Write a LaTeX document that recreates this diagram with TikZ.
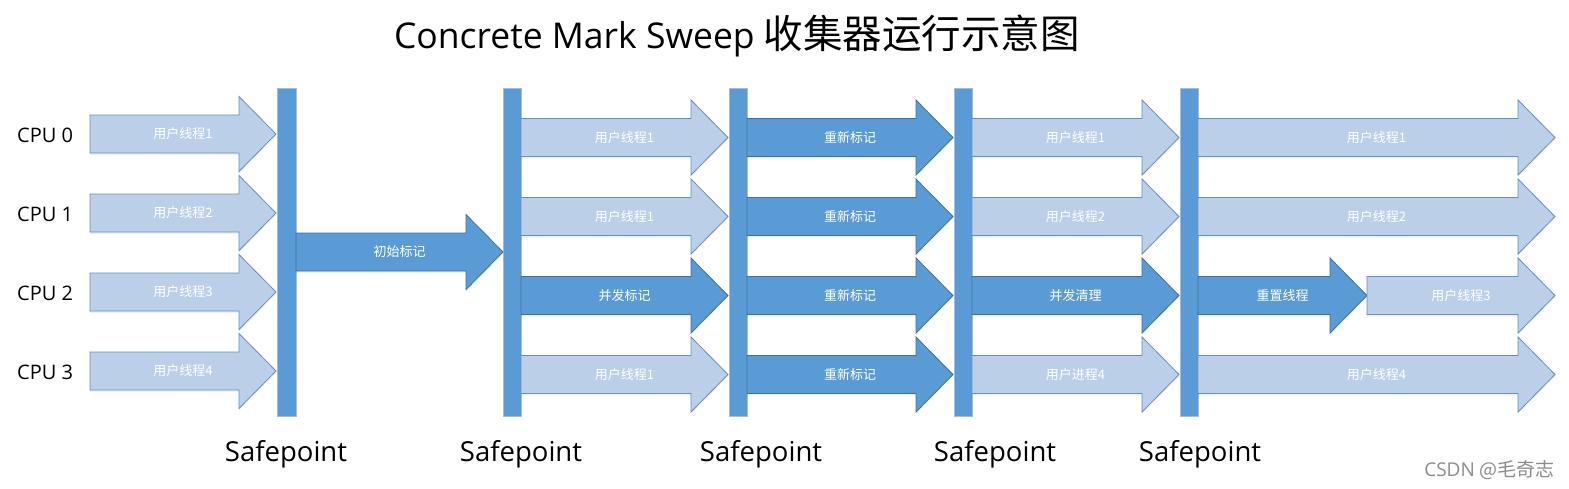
\documentclass[tikz,border=0pt]{standalone}
\usepackage{fontspec}
\setmainfont{Open Sans}
\newfontfamily\cjk{Noto Sans CJK SC}
\usetikzlibrary{shadows}
\definecolor{lightfill}{HTML}{BBCFE8}
\definecolor{lightedge}{HTML}{6A8EBF}
\definecolor{darkfill}{HTML}{5B9BD5}
\definecolor{darkedge}{HTML}{41719C}
\definecolor{baredge}{HTML}{A7BCD4}
\definecolor{wmgrey}{HTML}{8C8C8C}
\tikzset{
  userarrow/.style={fill=lightfill, draw=lightedge, line width=0.8pt, line join=miter,
    drop shadow={shadow xshift=0pt, shadow yshift=-2pt, opacity=0.12, fill=darkfill}},
  gcarrow/.style={fill=darkfill, draw=darkedge, line width=0.8pt, line join=miter,
    drop shadow={shadow xshift=0pt, shadow yshift=-2pt, opacity=0.12, fill=darkfill}},
  safebar/.style={fill=darkfill, draw=baredge, line width=0.6pt},
  lbl/.style={text=white, font=\cjk\fontsize{13}{15}\selectfont, inner sep=0pt},
  cpulbl/.style={font=\fontsize{20}{24}\selectfont, anchor=base west, inner sep=0pt},
  safelbl/.style={font=\fontsize{27.5}{32}\selectfont, anchor=base, inner sep=0pt},
}
\newcommand\flowarrow[6]{%
  \draw[#5] (#2,#4-19) -- (#3-37,#4-19) -- (#3-37,#4-37.5) -- (#3,#4) -- (#3-37,#4+37.5) -- (#3-37,#4+19) -- (#2,#4+19) -- cycle;
  \node[lbl] (#1) at ({(#2+#3)/2},#4) {#6};}
\begin{document}
\begin{tikzpicture}[x=1pt,y=-1pt]
\useasboundingbox[fill=white] (0,0) rectangle (1569,488);
% title
\node[anchor=base, inner sep=0pt] (title) at (737,48) {\fontsize{35.5}{42}\selectfont Concrete Mark Sweep {\cjk\fontsize{39.5}{42}\selectfont 收集器运行示意图}};
% CPU labels
\node[cpulbl] (cpu0) at (17,142) {CPU 0};
\node[cpulbl] (cpu1) at (17,221) {CPU 1};
\node[cpulbl] (cpu2) at (17,300) {CPU 2};
\node[cpulbl] (cpu3) at (17,379) {CPU 3};
% safepoint bars
\draw[safebar] (277,88) rectangle (296,416);
\draw[safebar] (503,88) rectangle (521,416);
\draw[safebar] (729,88) rectangle (747,416);
\draw[safebar] (954,88) rectangle (972,416);
\draw[safebar] (1180,88) rectangle (1198,416);
% column 0
\flowarrow{a00}{90}{276}{134}{userarrow}{用户线程1}
\flowarrow{a01}{90}{276}{213}{userarrow}{用户线程2}
\flowarrow{a02}{90}{276}{292}{userarrow}{用户线程3}
\flowarrow{a03}{90}{276}{371}{userarrow}{用户线程4}
% initial mark
\flowarrow{init}{296}{503}{252}{gcarrow}{初始标记}
% column 2
\flowarrow{a20}{521}{728}{137.5}{userarrow}{用户线程1}
\flowarrow{a21}{521}{728}{216.5}{userarrow}{用户线程1}
\flowarrow{a22}{521}{728}{295.5}{gcarrow}{并发标记}
\flowarrow{a23}{521}{728}{374.5}{userarrow}{用户线程1}
% column 3
\flowarrow{a30}{747}{953}{137.5}{gcarrow}{重新标记}
\flowarrow{a31}{747}{953}{216.5}{gcarrow}{重新标记}
\flowarrow{a32}{747}{953}{295.5}{gcarrow}{重新标记}
\flowarrow{a33}{747}{953}{374.5}{gcarrow}{重新标记}
% column 4
\flowarrow{a40}{972}{1179}{137.5}{userarrow}{用户线程1}
\flowarrow{a41}{972}{1179}{216.5}{userarrow}{用户线程2}
\flowarrow{a42}{972}{1179}{295.5}{gcarrow}{并发清理}
\flowarrow{a43}{972}{1179}{374.5}{userarrow}{用户进程4}
% column 5
\flowarrow{a50}{1198}{1555}{137.5}{userarrow}{用户线程1}
\flowarrow{a51}{1198}{1555}{216.5}{userarrow}{用户线程2}
\flowarrow{a52}{1198}{1367}{295.5}{gcarrow}{重置线程}
\flowarrow{a53}{1367}{1555}{295.5}{userarrow}{用户线程3}
\flowarrow{a54}{1198}{1555}{374.5}{userarrow}{用户线程4}
% safepoint labels
\node[safelbl] (s1) at (286,461) {Safepoint};
\node[safelbl] (s2) at (521,461) {Safepoint};
\node[safelbl] (s3) at (761,461) {Safepoint};
\node[safelbl] (s4) at (995,461) {Safepoint};
\node[safelbl] (s5) at (1200,461) {Safepoint};
% watermark
\node[anchor=base east, inner sep=0pt, text=wmgrey] (wm) at (1555,476) {\fontsize{19}{22}\selectfont CSDN {\cjk @毛奇志}};
\end{tikzpicture}
\end{document}
